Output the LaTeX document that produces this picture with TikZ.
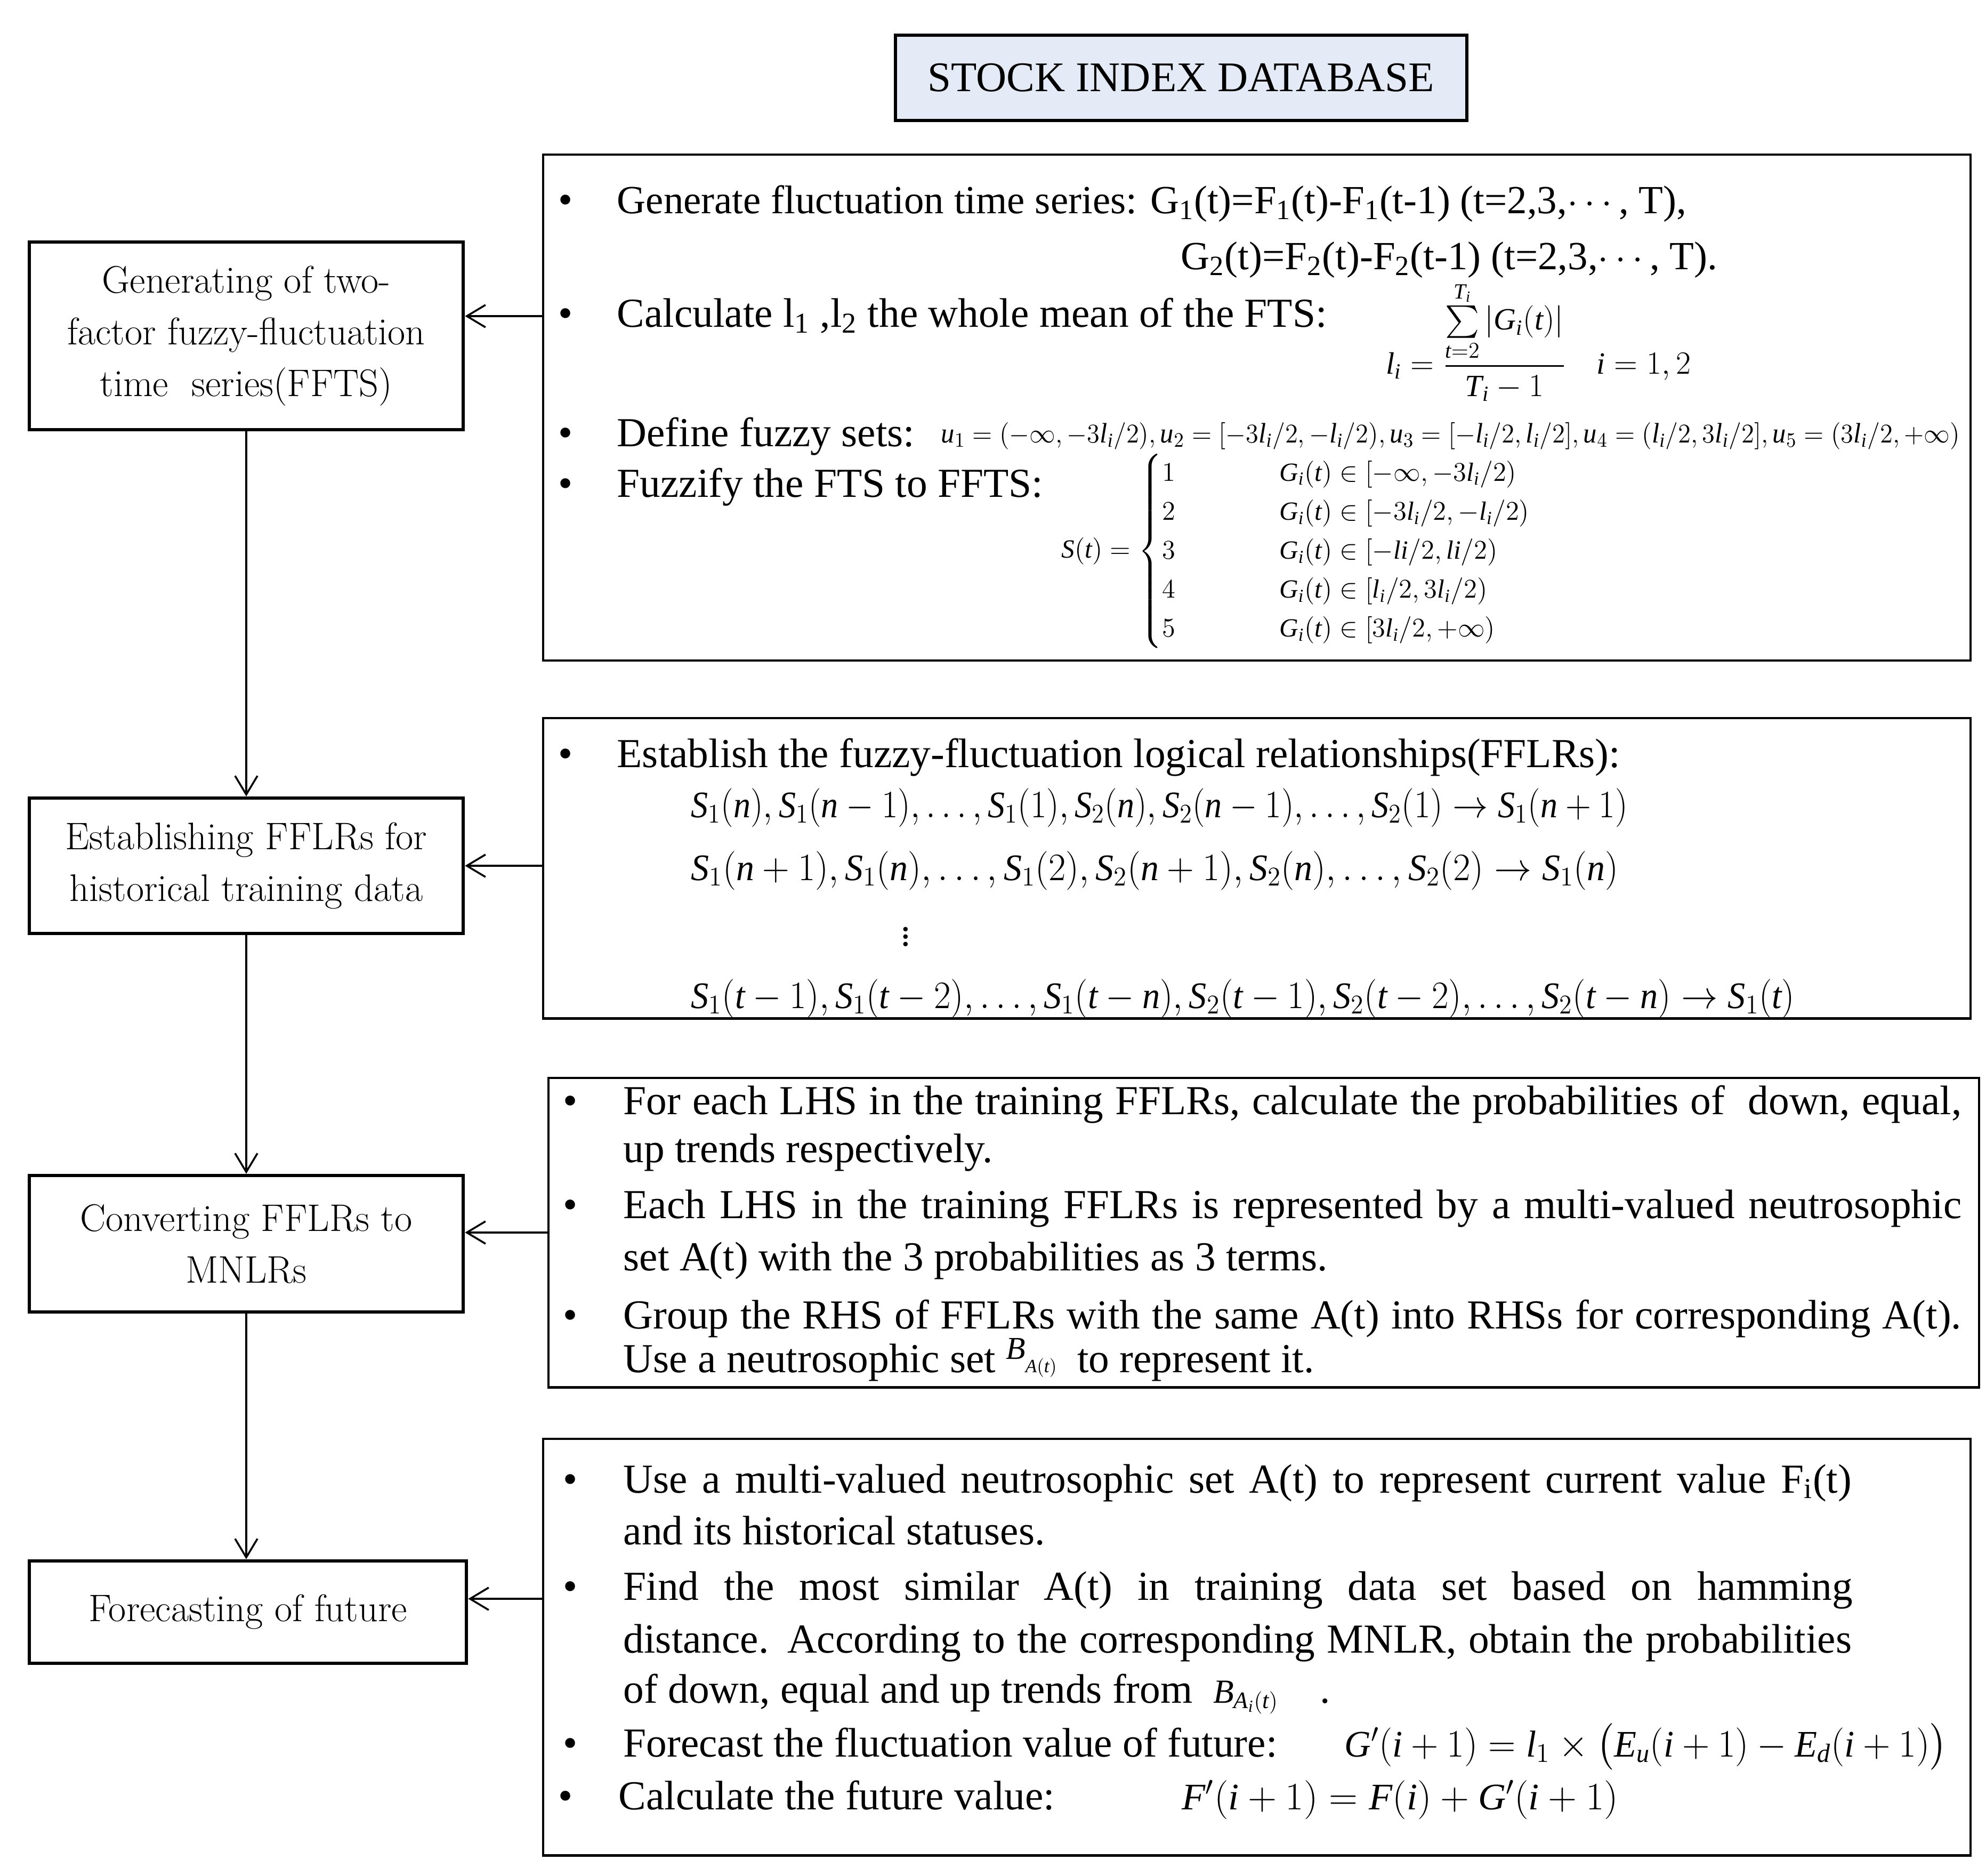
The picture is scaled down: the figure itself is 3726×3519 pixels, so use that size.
\documentclass[tikz,border=0pt]{standalone}
\usepackage{amsmath}
\usepackage{graphicx}
\usepackage{fontspec}
\setmainfont{Liberation Serif}
\newfontfamily\tnr{Liberation Serif}[NFSSFamily=tnrx]
\DeclareSymbolFont{tnrit}{TU}{tnrx}{m}{it}
\DeclareSymbolFont{tnrup}{TU}{tnrx}{m}{n}
\makeatletter
\@tfor\my@ch:=abcdefghijklmnopqrstuvwxyzABCDEFGHIJKLMNOPQRSTUVWXYZ\do{%
  \edef\my@tmp{\noexpand\DeclareMathSymbol{\my@ch}{\noexpand\mathalpha}{tnrit}{`\my@ch}}\my@tmp}
\@tfor\my@ch:=0123456789\do{%
  \edef\my@tmp{\noexpand\DeclareMathSymbol{\my@ch}{\noexpand\mathalpha}{tnrup}{`\my@ch}}\my@tmp}
\makeatother
\usetikzlibrary{arrows.meta,calc}
\definecolor{dbfill}{RGB}{228,235,246}
\newcommand\lmfont{\fontfamily{lmr}\fontsize{20.5}{27.6}\selectfont}
\newcommand\rfont{\fontsize{22}{28.5}\selectfont}
\tikzset{
  lbox/.style={draw, line width=1.8pt, minimum width=8.14cm, align=center, font=\lmfont, inner sep=0pt},
  rbox/.style={draw, line width=1.2pt, inner sep=0pt, anchor=north west},
  dbbox/.style={draw, line width=1.7pt, fill=dbfill, inner sep=0pt, font=\fontsize{22.5}{26}\selectfont},
  txt/.style={anchor=base west, inner sep=0pt, font=\rfont},
  gtxt/.style={anchor=base west, inner sep=0pt, font=\fontsize{21.3}{28}\selectfont},
  bul/.style={anchor=base, inner sep=0pt, font=\rfont},
  fml/.style={inner sep=0pt, font=\fontsize{14}{16}\selectfont},
  fmlb/.style={anchor=base west, inner sep=0pt, font=\fontsize{20}{24}\selectfont},
  arr/.style={line width=1pt, -{Straight Barb[length=0.35cm,width=0.42cm,line width=1pt]}},
}
\begin{document}
\begin{tikzpicture}[x=0.01cm,y=-0.01cm]
\useasboundingbox (0,0) rectangle (3726,3519);
\fill[white] (0,0) rectangle (3726,3519);

% top database box
\node[dbbox, minimum width=10.72cm, minimum height=1.59cm] (db) at (2216,146) {STOCK INDEX DATABASE};

% right boxes
\node[rbox, minimum width=26.76cm, minimum height=9.48cm] (r1) at (1017,288) {};
\node[rbox, minimum width=26.76cm, minimum height=5.63cm] (r2) at (1017,1345) {};
\node[rbox, minimum width=26.82cm, minimum height=5.80cm] (r3) at (1027,2020) {};
\node[rbox, minimum width=26.76cm, minimum height=7.81cm] (r4) at (1017,2697) {};

% left boxes
\node[lbox, minimum height=3.52cm] (l1) at (462,630) {Generating of two-\\factor fuzzy-fluctuation\\time\ \ series(FFTS)};
\node[lbox, minimum height=2.54cm] (l2) at (462,1624) {Establishing FFLRs for\\historical training data};
\node[lbox, minimum height=2.56cm] (l3) at (462,2333) {Converting FFLRs to\\MNLRs};
\node[lbox, minimum height=1.92cm, minimum width=8.2cm] (l4) at (465,3024) {Forecasting of future};

% box 1 content
\node[bul] (b11) at (1061,401) {•};
\node[gtxt] (t11) at (1157,401) {Generate fluctuation time series: G\textsubscript{1}(t)=F\textsubscript{1}(t)-F\textsubscript{1}(t-1) (t=2,3,$\cdots$, T),};
\node[gtxt] (t12) at (2215,506) {G\textsubscript{2}(t)=F\textsubscript{2}(t)-F\textsubscript{2}(t-1) (t=2,3,$\cdots$, T).};
\node[bul] (b13) at (1061,614) {•};
\node[txt] (t13) at (1157,614) {Calculate l\textsubscript{1} ,l\textsubscript{2} the whole mean of the FTS:};
\node[fml, anchor=west, font=\fontsize{16.5}{18}\selectfont] (f13) at (2600,640) {$l_i=\dfrac{\sum\limits_{t=2}^{T_i}\left|G_i(t)\right|}{T_i-1}\quad i=1,2$};
\node[bul] (b14) at (1061,838) {•};
\node[txt] (t14) at (1157,838) {Define fuzzy sets:};
\node[fml, anchor=base west, font=\fontsize{15}{17}\selectfont] (f14) at (1765,831) {\resizebox{19.1cm}{\height}{$u_1=(-\infty,-3l_i/2),u_2=[-3l_i/2,-l_i/2),u_3=[-l_i/2,l_i/2],u_4=(l_i/2,3l_i/2],u_5=(3l_i/2,+\infty)$}};
\node[bul] (b15) at (1061,933) {•};
\node[txt] (t15) at (1157,933) {Fuzzify the FTS to FFTS:};
\node[fml, anchor=west] (f15) at (1991,1034) {\renewcommand\arraystretch{1.3}$S(t)=\left\{\begin{array}{@{}l@{\hspace{1.95cm}}l@{}}
1 & G_i(t)\in[-\infty,-3l_i/2)\\
2 & G_i(t)\in[-3l_i/2,-l_i/2)\\
3 & G_i(t)\in[-li/2,li/2)\\
4 & G_i(t)\in[l_i/2,3l_i/2)\\
5 & G_i(t)\in[3l_i/2,+\infty)
\end{array}\right.$};

% box 2 content
\node[bul] (b21) at (1061,1439) {•};
\node[txt] (t21) at (1157,1439) {Establish the fuzzy-fluctuation logical relationships(FFLRs):};
\node[fmlb] (f21) at (1296,1533) {\resizebox{17.56cm}{\height}{$S_1(n),S_1(n-1),\ldots,S_1(1),S_2(n),S_2(n-1),\ldots,S_2(1)\rightarrow S_1(n+1)$}};
\node[fmlb] (f22) at (1296,1651) {\resizebox{17.39cm}{\height}{$S_1(n+1),S_1(n),\ldots,S_1(2),S_2(n+1),S_2(n),\ldots,S_2(2)\rightarrow S_1(n)$}};
\node[inner sep=0pt, font=\fontsize{20}{24}\selectfont] (vd) at (1699,1747) {$\vdots$};
\node[fmlb] (f23) at (1296,1891) {\resizebox{20.69cm}{\height}{$S_1(t-1),S_1(t-2),\ldots,S_1(t-n),S_2(t-1),S_2(t-2),\ldots,S_2(t-n)\rightarrow S_1(t)$}};

% box 3 content
\node[bul] (b31) at (1070,2090) {•};
\node[txt] (t31) at (1169,2090) {\makebox[25.09cm][s]{For each LHS in the training FFLRs, calculate the probabilities of\ \ down, equal,}};
\node[txt] (t32) at (1169,2180) {up trends respectively.};
\node[bul] (b33) at (1070,2285) {•};
\node[txt] (t33) at (1169,2285) {\makebox[25.09cm][s]{Each LHS in the training FFLRs is represented by a multi-valued neutrosophic}};
\node[txt] (t34) at (1169,2383) {set A(t) with the 3 probabilities as 3 terms.};
\node[bul] (b35) at (1070,2492) {•};
\node[txt] (t35) at (1169,2492) {\makebox[25.09cm][s]{Group the RHS of FFLRs with the same A(t) into RHSs for corresponding A(t).}};
\node[txt] (t36) at (1169,2574) {Use a neutrosophic set \raisebox{7pt}{\fontsize{17}{17}\selectfont$B$}{\fontsize{10}{10}\selectfont$A(t)$}\ \ to represent it.};

% box 4 content
\node[bul] (b41) at (1070,2800) {•};
\node[txt] (t41) at (1169,2800) {\makebox[23.03cm][s]{Use a multi-valued neutrosophic set A(t) to represent current value F\textsubscript{i}(t)}};
\node[txt] (t42) at (1169,2897) {and its historical statuses.};
\node[bul] (b43) at (1070,3001) {•};
\node[txt] (t43) at (1169,3001) {\makebox[23.05cm][s]{Find the most similar A(t) in training data set based on hamming}};
\node[txt] (t44) at (1169,3100) {\makebox[23.03cm][s]{distance. According to the corresponding MNLR, obtain the probabilities}};
\node[txt] (t45) at (1169,3194) {of down, equal and up trends from \ {\fontsize{18}{18}\selectfont$B_{A_i(t)}$}\quad .};
\node[bul] (b46) at (1070,3295) {•};
\node[txt] (t46) at (1169,3295) {Forecast the fluctuation value of future:};
\node[fmlb] (f46) at (2522,3295) {\resizebox{11.3cm}{\height}{$G'(i+1)=l_1\times\big(E_u(i+1)-E_d(i+1)\big)$}};
\node[bul] (b47) at (1061,3394) {•};
\node[txt] (t47) at (1160,3394) {Calculate the future value:};
\node[fmlb] (f47) at (2217,3394) {\resizebox{8.18cm}{\height}{$F'(i+1)=F(i)+G'(i+1)$}};

% connectors
\draw[arr] (l1.south) -- (l2.north);
\draw[arr] (l2.south) -- (l3.north);
\draw[arr] (l3.south) -- (l3.south |- l4.north);
\path ([yshift=0.37cm]l1.east) coordinate (e1);
\draw[arr] (r1.west |- e1) -- (e1);
\draw[arr] (r2.west |- l2.east) -- (l2.east);
\path ([yshift=0.21cm]l3.east) coordinate (e3);
\draw[arr] (r3.west |- e3) -- (e3);
\path ([yshift=0.25cm]l4.east) coordinate (e4);
\draw[arr] (r4.west |- e4) -- (e4);
\end{tikzpicture}
\end{document}
